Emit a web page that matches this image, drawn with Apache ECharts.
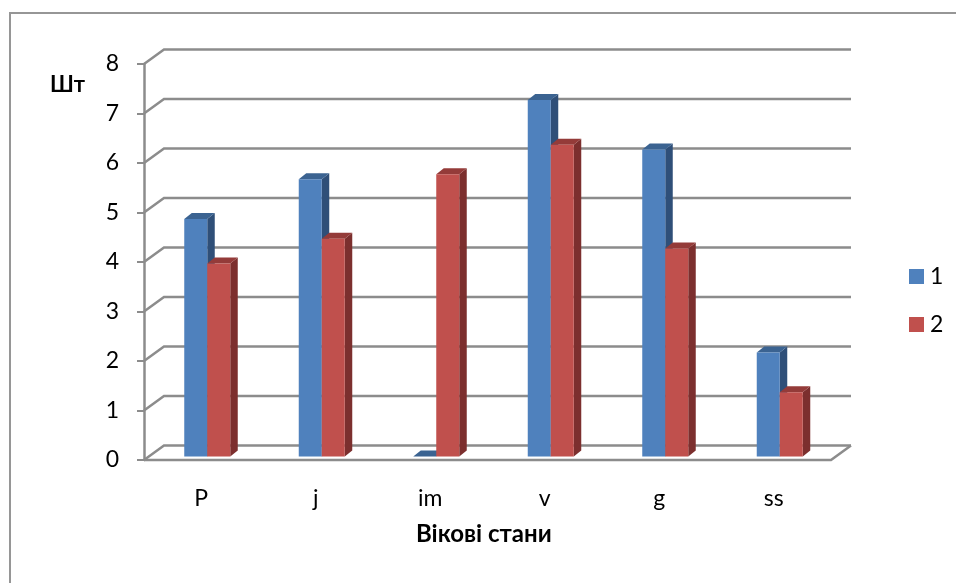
<!DOCTYPE html>
<html>
<head>
<meta charset="utf-8">
<style>
html, body { margin: 0; padding: 0; background: #fff; }
#chart { width: 956px; height: 583px; }
</style>
<script src="https://cdn.jsdelivr.net/npm/echarts@6/dist/echarts.min.js"></script>
</head>
<body>
<div id="chart"></div>
<script>
var categories = ['P', 'j', 'im', 'v', 'g', 'ss'];
var series1 = [4.8, 5.6, 0, 7.2, 6.2, 2.1];
var series2 = [3.9, 4.4, 5.7, 6.3, 4.2, 1.3];
var yTicks = [0, 1, 2, 3, 4, 5, 6, 7, 8];

var fontName = 'Lato, "Open Sans"';
var gridColor = '#8c8c8c';

// depth of the fake 3d box
var wallX = 20, wallY = -14.5;
// bars stand a bit inside the floor
var barShiftX = 6, barShiftY = -3.5;
var barW = 23, barDepthX = 7.5, barDepthY = -6;

// back wall lines + floor
function renderWall(params, api) {
  var v = api.value(0);
  var rect = params.coordSys;
  var y = api.coord([0, v])[1];
  var x0 = rect.x, x1 = rect.x + rect.width;
  var children = [{
    type: 'polyline',
    shape: { points: [[x0, y], [x0 + wallX, y + wallY], [x1 + wallX, y + wallY]] },
    style: { stroke: gridColor, lineWidth: 2.5, fill: null }
  }];
  if (v === 0) {
    children.push({
      type: 'polyline',
      shape: { points: [[x0, y], [x1, y], [x1 + wallX, y + wallY]] },
      style: { stroke: gridColor, lineWidth: 2.5, fill: null }
    });
  }
  return { type: 'group', children: children };
}

function barRenderer(side, front, top, right) {
  return function (params, api) {
    var c = api.coord([api.value(0), api.value(1)]);
    var base = api.coord([api.value(0), 0]);
    var x = c[0] + barShiftX + (side === 0 ? -barW : 0);
    var yTop = c[1] + barShiftY;
    var yBase = base[1] + barShiftY;
    var dx = barDepthX, dy = barDepthY;
    return {
      type: 'group',
      children: [
        { type: 'polygon', shape: { points: [[x + barW, yTop], [x + barW + dx, yTop + dy], [x + barW + dx, yBase + dy], [x + barW, yBase]] }, style: { fill: right } },
        { type: 'polygon', shape: { points: [[x, yTop], [x + dx, yTop + dy], [x + barW + dx, yTop + dy], [x + barW, yTop]] }, style: { fill: top } },
        { type: 'rect', shape: { x: x, y: yTop, width: barW, height: yBase - yTop }, style: { fill: front } }
      ]
    };
  };
}

var chart = echarts.init(document.getElementById('chart'), null, { renderer: 'canvas' });
chart.setOption({
  animation: false,
  backgroundColor: '#fff',
  textStyle: { fontFamily: fontName },
  graphic: [{
    type: 'rect',
    shape: { x: 10, y: 13, width: 960, height: 600 },
    style: { fill: null, stroke: '#969696', lineWidth: 2 },
    silent: true,
    z: -1
  }],
  title: [
    { text: 'Шт', left: 50, top: 74, padding: 0, textStyle: { fontFamily: fontName, fontSize: 22, fontWeight: 'bold', color: '#000' } },
    { text: 'Вікові стани', left: 416, top: 522, padding: 0, textStyle: { fontFamily: fontName, fontSize: 24, fontWeight: 'bold', color: '#000' } }
  ],
  legend: {
    orient: 'vertical',
    left: 909,
    top: 265,
    padding: 0,
    itemWidth: 15,
    itemHeight: 15,
    itemGap: 25,
    icon: 'rect',
    textStyle: { fontFamily: fontName, fontSize: 23, color: '#000', padding: [0, 0, 0, 1] },
    data: ['1', '2']
  },
  grid: { left: 144, right: 125, top: 64, bottom: 123 },
  xAxis: {
    type: 'category',
    data: categories,
    axisLine: { show: false },
    axisTick: { show: false },
    axisLabel: { fontFamily: fontName, fontSize: 23, color: '#000', margin: 27 }
  },
  yAxis: {
    type: 'value',
    min: 0,
    max: 8,
    interval: 1,
    axisLine: { show: true, lineStyle: { color: gridColor, width: 2.5 } },
    axisTick: { show: true, length: 7, lineStyle: { color: gridColor, width: 2 } },
    axisLabel: { fontFamily: fontName, fontSize: 23, color: '#000', margin: 25, padding: [5, 0, 0, 0] },
    splitLine: { show: false }
  },
  series: [
    {
      type: 'custom',
      name: 'wall',
      data: yTicks,
      encode: { y: 0 },
      renderItem: renderWall,
      silent: true,
      z: 1
    },
    {
      type: 'custom',
      name: '1',
      data: categories.map(function (c, i) { return [i, series1[i]]; }),
      encode: { x: 0, y: 1 },
      itemStyle: { color: '#4f81bd' },
      renderItem: barRenderer(0, '#4f81bd', '#3b6391', '#2f4f78'),
      z: 2
    },
    {
      type: 'custom',
      name: '2',
      data: categories.map(function (c, i) { return [i, series2[i]]; }),
      encode: { x: 0, y: 1 },
      itemStyle: { color: '#c0504d' },
      renderItem: barRenderer(1, '#c0504d', '#943b39', '#7c2f2e'),
      z: 3
    }
  ]
});
</script>
</body>
</html>
